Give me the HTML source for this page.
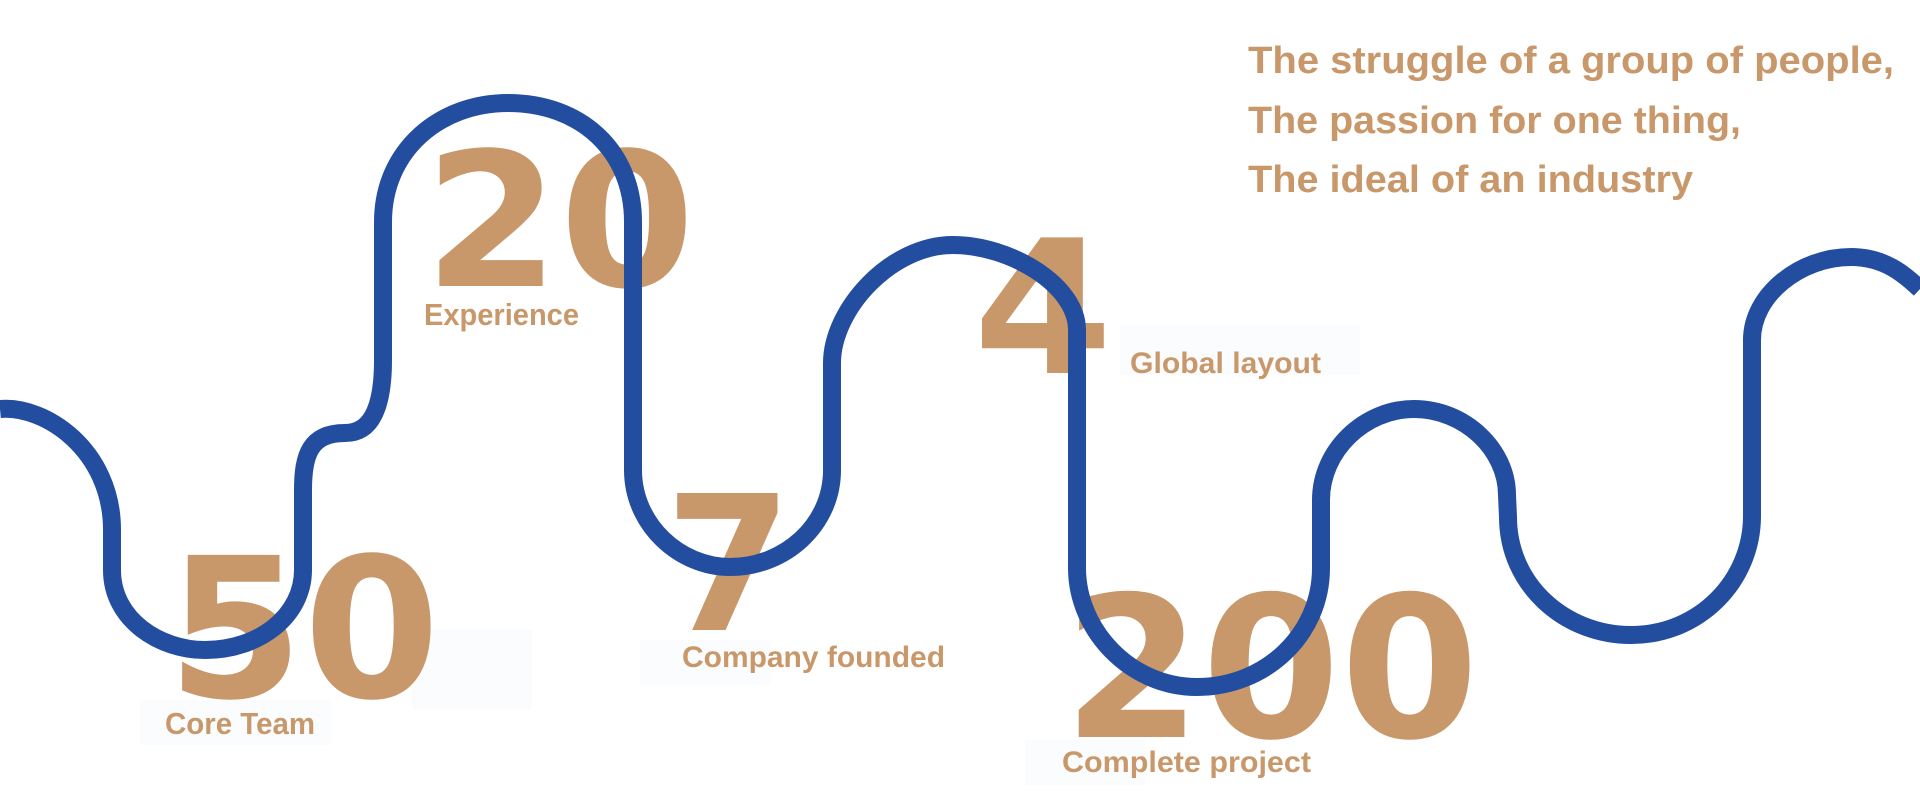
<!DOCTYPE html>
<html><head><meta charset="utf-8"><style>
html,body{margin:0;padding:0;background:#fff;}
svg{display:block;}
.d{font-family:"DejaVu Sans","Liberation Sans",sans-serif;font-weight:bold;fill:#C8976A;}
.l{font-family:"Liberation Sans",sans-serif;font-weight:bold;fill:#C8976A;}
</style></head><body>
<svg width="1920" height="809" viewBox="0 0 1920 809" xmlns="http://www.w3.org/2000/svg">
<rect width="1920" height="809" fill="#fff"/>
<rect x="140" y="700" width="190" height="45" fill="#fbfcfe"/>
<rect x="412" y="630" width="120" height="80" fill="#fbfcfe"/>
<rect x="640" y="640" width="130" height="45" fill="#fbfcfe"/>
<rect x="1120" y="325" width="240" height="50" fill="#fbfcfe"/>
<rect x="1025" y="740" width="120" height="45" fill="#fbfcfe"/>
<text class="d" x="167" y="697" font-size="195" textLength="273" lengthAdjust="spacingAndGlyphs">50</text>
<text class="d" x="424" y="286" font-size="187" textLength="271" lengthAdjust="spacingAndGlyphs">20</text>
<text class="d" x="665" y="630" font-size="188" textLength="127" lengthAdjust="spacingAndGlyphs">7</text>
<text class="d" x="973" y="373" font-size="186" textLength="140" lengthAdjust="spacingAndGlyphs">4</text>
<text class="d" x="1063" y="737" font-size="197" textLength="416" lengthAdjust="spacingAndGlyphs">200</text>
<path d="M0,409 C45,405 112,450 112,530 L112,570 C112,620 160,650 205,650 C260,650 303,615 303,570 L303,490 C303,455 310,433 345,433 C375,433 383,400 383,360 L383,222 C383,150 440,103 508,103 C580,103 633,150 633,222 L633,470 C633,525 680,567 730,567 C785,567 832,525 832,470 L832,363 C832,310 890,245 953,245 C1010,245 1077,285 1077,330 L1077,568 C1077,630 1130,687 1197,687 C1265,687 1321,635 1321,568 L1321,500 C1321,450 1365,409 1414,409 C1465,409 1507,450 1507,495 L1508,517 C1508,585 1565,635 1631,635 C1700,635 1752,580 1752,516 L1752,340 C1752,295 1800,257 1851,257 C1885,257 1905,275 1920,289" fill="none" stroke="#234EA0" stroke-width="18"/>
<text class="l" x="165" y="734" font-size="31" textLength="150" lengthAdjust="spacingAndGlyphs">Core Team</text>
<text class="l" x="424" y="325" font-size="31" textLength="155" lengthAdjust="spacingAndGlyphs">Experience</text>
<text class="l" x="682" y="667" font-size="30" textLength="263" lengthAdjust="spacingAndGlyphs">Company founded</text>
<text class="l" x="1130" y="373" font-size="30" textLength="191" lengthAdjust="spacingAndGlyphs">Global layout</text>
<text class="l" x="1062" y="772" font-size="30" textLength="249" lengthAdjust="spacingAndGlyphs">Complete project</text>
<text class="l" x="1248" y="73" font-size="38" textLength="646" lengthAdjust="spacingAndGlyphs">The struggle of a group of people,</text>
<text class="l" x="1248" y="133" font-size="38" textLength="493" lengthAdjust="spacingAndGlyphs">The passion for one thing,</text>
<text class="l" x="1248" y="192" font-size="38" textLength="445" lengthAdjust="spacingAndGlyphs">The ideal of an industry</text>
</svg>
</body></html>
